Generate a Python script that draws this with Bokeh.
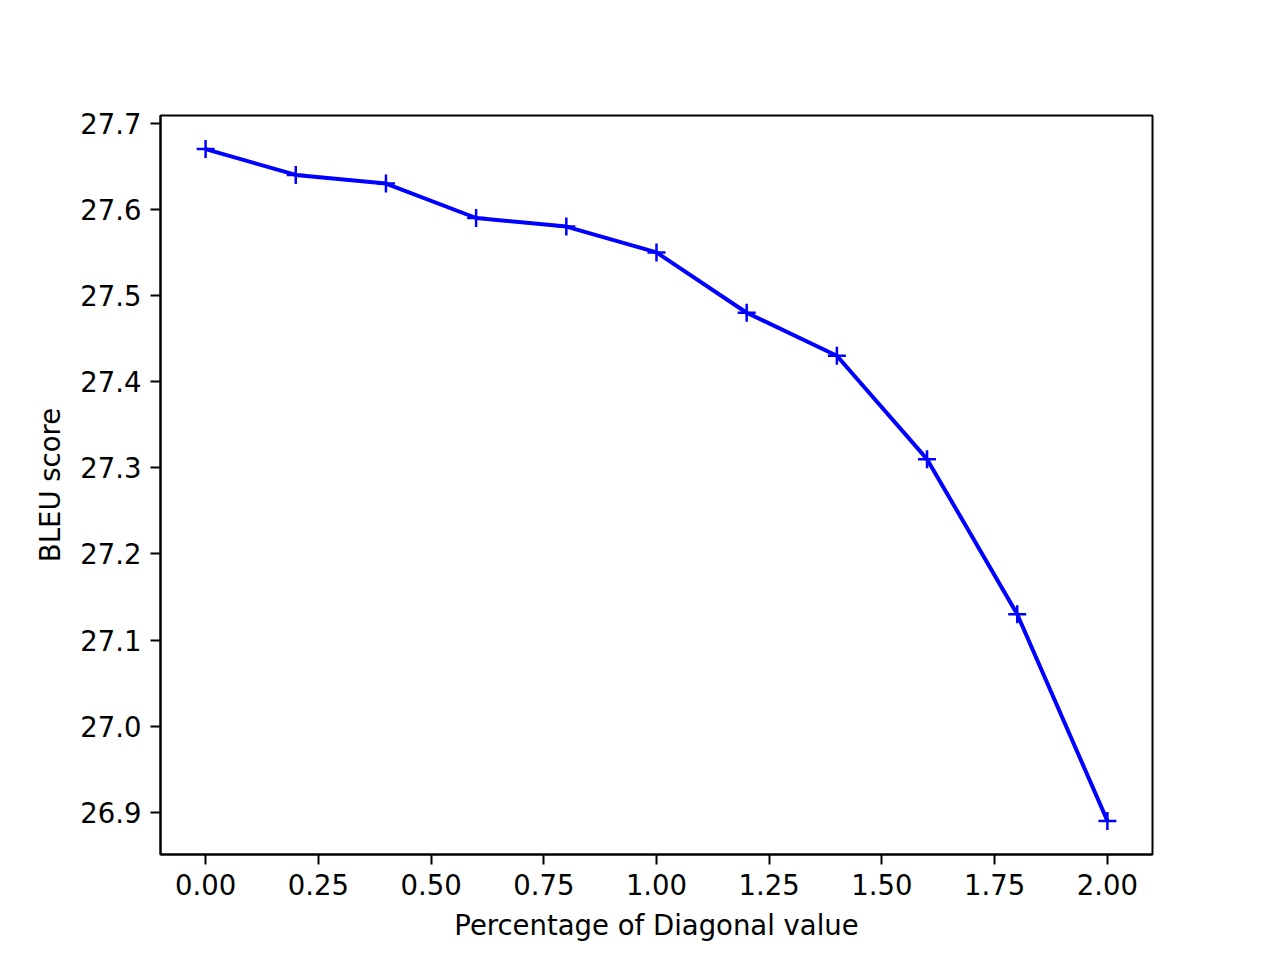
from bokeh.plotting import figure
from bokeh.models import Range1d, FixedTicker, NumeralTickFormatter
from bokeh.embed import file_html
from bokeh.resources import INLINE

diag_pct = [0.0, 0.2, 0.4, 0.6, 0.8, 1.0, 1.2, 1.4, 1.6, 1.8, 2.0]
bleu = [27.67, 27.64, 27.63, 27.59, 27.58, 27.55, 27.48, 27.43, 27.31, 27.13, 26.89]
x_ticks = [0.0, 0.25, 0.5, 0.75, 1.0, 1.25, 1.5, 1.75, 2.0]
y_ticks = [26.9, 27.0, 27.1, 27.2, 27.3, 27.4, 27.5, 27.6, 27.7]

FONT = "DejaVu Sans"
FS = "27.5px"

p = figure(width=1264, height=944, output_backend="svg", toolbar_location=None,
           x_range=Range1d(-0.1, 2.1), y_range=Range1d(26.851, 27.709),
           min_border_left=160, min_border_right=112, min_border_top=115, min_border_bottom=90)
p.background_fill_color = "white"
p.border_fill_color = "white"
p.outline_line_color = "black"
p.outline_line_width = 2
p.grid.visible = False

p.line(diag_pct, bleu, line_color="#0000ff", line_width=4)
p.scatter(diag_pct, bleu, marker="cross", size=18, line_color="#0000ff", line_width=2.5)

for ax in (p.xaxis[0], p.yaxis[0]):
    ax.axis_line_color = "black"
    ax.axis_line_width = 2
    ax.major_tick_line_color = "black"
    ax.major_tick_line_width = 2
    ax.major_tick_out = 10
    ax.major_tick_in = 0
    ax.minor_tick_line_color = None
    ax.major_label_text_font = FONT
    ax.major_label_text_font_size = FS
    ax.major_label_text_color = "black"
    ax.axis_label_text_font = FONT
    ax.axis_label_text_font_size = FS
    ax.axis_label_text_font_style = "normal"
    ax.axis_label_text_color = "black"
    ax.major_label_standoff = 9
    ax.axis_label_standoff = 11

p.xaxis[0].ticker = FixedTicker(ticks=x_ticks)
p.xaxis[0].formatter = NumeralTickFormatter(format="0.00")
p.yaxis[0].ticker = FixedTicker(ticks=y_ticks)
p.yaxis[0].formatter = NumeralTickFormatter(format="0.0")
p.xaxis[0].axis_label = "Percentage of Diagonal value"
p.yaxis[0].axis_label = "BLEU score"

open("out.html", "w").write(file_html(p, INLINE))
